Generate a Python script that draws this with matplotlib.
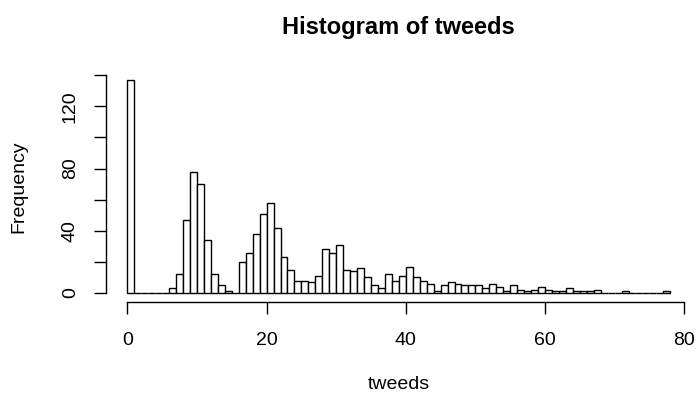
import numpy as np
import matplotlib
matplotlib.use("Agg")
import matplotlib.pyplot as plt

# histogram of tweeds, bins of width 1 starting at 0
bin_edges = list(range(0, 78))
counts = [137, 0, 0, 0, 0, 0, 3, 12, 47, 78,
          70, 34, 12, 5, 1, 0, 20, 26, 38, 51,
          58, 42, 23, 15, 8, 8, 7, 11, 28, 26,
          31, 15, 14, 16, 10, 5, 3, 12, 8, 11,
          17, 10, 8, 6, 1, 5, 7, 6, 5, 5,
          5, 3, 6, 4, 1, 5, 2, 1, 2, 4,
          2, 1, 1, 3, 1, 1, 1, 2, 0, 0,
          0, 1, 0, 0, 0, 0, 0, 1]
x_ticks = [0, 20, 40, 60, 80]
y_ticks = [0, 20, 40, 60, 80, 100, 120, 140]
y_labels = ["0", "", "40", "", "80", "", "120", ""]

plt.rcParams['font.family'] = ['Liberation Sans', 'DejaVu Sans']

W, H = 696, 397
fig = plt.figure(figsize=(W / 100, H / 100), dpi=100)
# plot region in pixels (R style, 4% padding around data range)
left, right, top, bottom = 105.7, 692.0, 71.4, 301.5
ax = fig.add_axes([left / W, 1 - bottom / H, (right - left) / W, (bottom - top) / H])

ax.bar(bin_edges, counts, width=1, align='edge', color='white',
       edgecolor='black', linewidth=1.0)

ax.set_xlim(-3.12, 81.12)
ax.set_ylim(-5.48, 142.48)

for s in ['top', 'right']:
    ax.spines[s].set_visible(False)
ax.spines['left'].set_bounds(0, 140)
ax.spines['bottom'].set_bounds(0, 80)
ax.spines['left'].set_linewidth(1.0)
ax.spines['bottom'].set_linewidth(1.0)

ax.set_xticks(x_ticks)
ax.set_xticklabels([str(v) for v in x_ticks])
ax.set_yticks(y_ticks)
ax.set_yticklabels(y_labels, rotation=90, va='center')
ax.tick_params(axis='both', length=8.3, width=1.0, labelsize=14)
ax.tick_params(axis='x', pad=14)
ax.tick_params(axis='y', pad=11)

ax.set_xlabel("tweeds", fontsize=14, labelpad=19)
ax.set_ylabel("Frequency", fontsize=14, labelpad=25)
ax.set_title("Histogram of tweeds", fontsize=17, fontweight='bold', pad=27)

fig.savefig("out.png", dpi=100)
